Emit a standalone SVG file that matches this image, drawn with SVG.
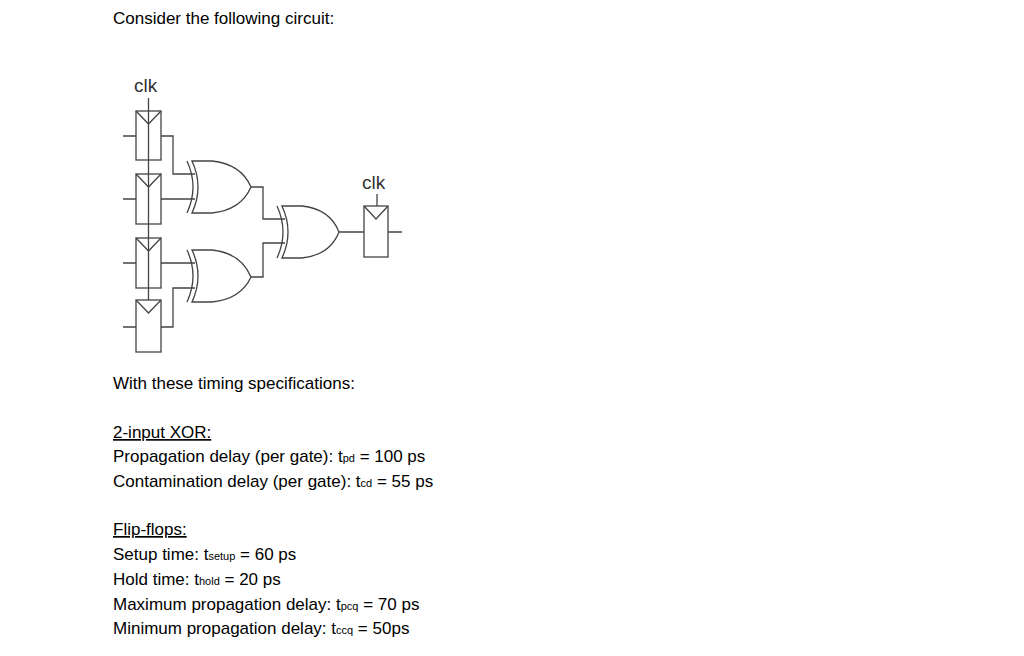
<svg xmlns="http://www.w3.org/2000/svg" width="1024" height="656" viewBox="0 0 1024 656">
<style>
.w{fill:none;stroke:#444;stroke-width:1.3}
.b{fill:#fff;stroke:#444;stroke-width:1.3}
.t{font-family:"Liberation Sans",Arial,sans-serif;font-size:17px;fill:#000}
.c{font-family:"Liberation Sans",Arial,sans-serif;font-size:19px;fill:#333}
.s{font-size:11px}
</style>
<rect width="1024" height="656" fill="#fff"/>
<text class="t" x="113" y="24">Consider the following circuit:</text>
<g id="connectors">
<path class="w" d="M148.5,98V300"/>
<path class="w" d="M123,136H136M123,199H136M123,263H136M123,327H136"/>
<path class="w" d="M161,136H173V174H195M161,199H195M161,263H195M161,327H173V288H195"/>
<path class="w" d="M251,187H263V219H285M251,277H263V243H285"/>
<path class="w" d="M339,232H364M377,194V206M388,232H402"/>
</g>
<g id="ff1"><rect class="w" x="136" y="111" width="25" height="49"/><path class="w" d="M136,111L148.5,124L161,111"/></g>
<g id="ff2"><rect class="w" x="136" y="174" width="25" height="50"/><path class="w" d="M136,174L148.5,187L161,174"/></g>
<g id="ff3"><rect class="w" x="136" y="238" width="25" height="50"/><path class="w" d="M136,238L148.5,251L161,238"/></g>
<g id="ff4"><rect class="w" x="136" y="300" width="25" height="52"/><path class="w" d="M136,300L148.5,313L161,300"/></g>
<g id="ff5"><rect class="w" x="364" y="206" width="24" height="51"/><path class="w" d="M364,206L376,219L388,206"/></g>
<g id="xor1"><path class="b" d="M192,161H212Q241,164 251,187Q241,210 212,213H192Q204,187 192,161Z"/><path class="w" d="M187,161Q199,187 187,213"/></g>
<g id="xor2"><path class="b" d="M192,250H212Q241,253 251,277Q241,299 212,302H192Q204,276 192,250Z"/><path class="w" d="M187,250Q199,276 187,302"/></g>
<g id="xor3"><path class="b" d="M282,206H302Q330,209 339,232Q330,255 302,258H282Q294,232 282,206Z"/><path class="w" d="M277,206Q289,232 277,258"/></g>
<text class="c" x="134" y="92">clk</text>
<text class="c" x="362" y="189">clk</text>
<text class="t" x="113" y="389">With these timing specifications:</text>
<text class="t" x="113" y="438" text-decoration="underline">2-input XOR:</text>
<text class="t" x="113" y="462">Propagation delay (per gate):  t<tspan class="s">pd</tspan> = 100 ps</text>
<text class="t" x="113" y="487">Contamination delay (per gate): t<tspan class="s">cd</tspan> = 55 ps</text>
<text class="t" x="113" y="535" text-decoration="underline">Flip-flops:</text>
<text class="t" x="113" y="560">Setup time: t<tspan class="s">setup</tspan> = 60 ps</text>
<text class="t" x="113" y="585">Hold time: t<tspan class="s">hold</tspan> = 20 ps</text>
<text class="t" x="113" y="610">Maximum propagation delay:  t<tspan class="s">pcq</tspan> = 70 ps</text>
<text class="t" x="113" y="634">Minimum propagation delay: t<tspan class="s">ccq</tspan> = 50ps</text>
</svg>
